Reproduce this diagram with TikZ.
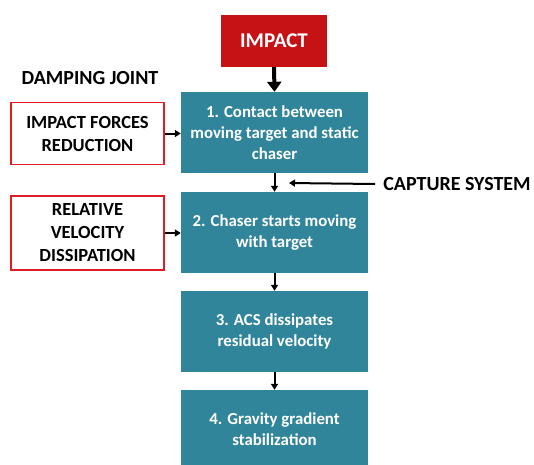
\documentclass[tikz,border=0pt]{standalone}
\usepackage{fontspec}
\setmainfont{Carlito}
\usetikzlibrary{arrows.meta}
\definecolor{teal1}{RGB}{49,133,155}
\definecolor{red1}{RGB}{198,18,20}
\definecolor{red2}{RGB}{222,30,36}
\tikzset{
  x=1pt,y=-1pt,
  stepbox/.style={fill=teal1,draw=none,minimum width=187pt,minimum height=81pt,text=white,font=\bfseries\fontsize{16.8}{21}\selectfont,align=center,inner sep=0pt},
  redbox/.style={draw=red2,line width=1.8pt,fill=white,minimum width=153pt,align=center,font=\bfseries\fontsize{18.5}{23}\selectfont,inner sep=0pt},
  lbl/.style={font=\bfseries\fontsize{20}{24}\selectfont,inner sep=0pt},
  smallarr/.style={-{Triangle[length=6pt,width=7pt]},line width=2pt},
  bigarr/.style={-{Triangle[length=10pt,width=14pt]},line width=4pt}
}
\begin{document}
\begin{tikzpicture}
\useasboundingbox (0,0) rectangle (534,464);
\node[fill=red1,minimum width=106pt,minimum height=52pt,text=white,font=\bfseries\fontsize{21}{24}\selectfont,inner sep=0pt] (impact) at (274,41) {IMPACT};
\node[stepbox] (s1) at (274.5,132.5) {1. Contact between\\moving target and static\\chaser};
\node[stepbox] (s2) at (274.5,232.5) {2. Chaser starts moving\\with target};
\node[stepbox] (s3) at (274.5,331.5) {3. ACS dissipates\\residual velocity};
\node[stepbox,minimum height=78pt] (s4) at (274.5,429) {4. Gravity gradient\\stabilization};
\node[lbl] (dj) at (90,78) {DAMPING JOINT};
\node[lbl] (cs) at (457,184) {CAPTURE SYSTEM};
\node[redbox,minimum height=62pt] (r1) at (87.5,133.5) {IMPACT FORCES\\REDUCTION};
\node[redbox,minimum height=74pt] (r2) at (87.5,233) {RELATIVE\\VELOCITY\\DISSIPATION};
\draw[bigarr] (impact.south) -- (s1.north);
\draw[smallarr] (s1.south) -- (s2.north);
\draw[smallarr] (s2.south) -- (s3.north);
\draw[smallarr] (s3.south) -- (s4.north);
\coordinate (cm) at (289,183);
\draw[smallarr] (cs.west) ++(-8,0) coordinate (csw) -- (cm);
\draw[smallarr] (r1.east) -- (s1.west |- r1.east);
\draw[smallarr] (r2.east) -- (s2.west |- r2.east);
\end{tikzpicture}
\end{document}
